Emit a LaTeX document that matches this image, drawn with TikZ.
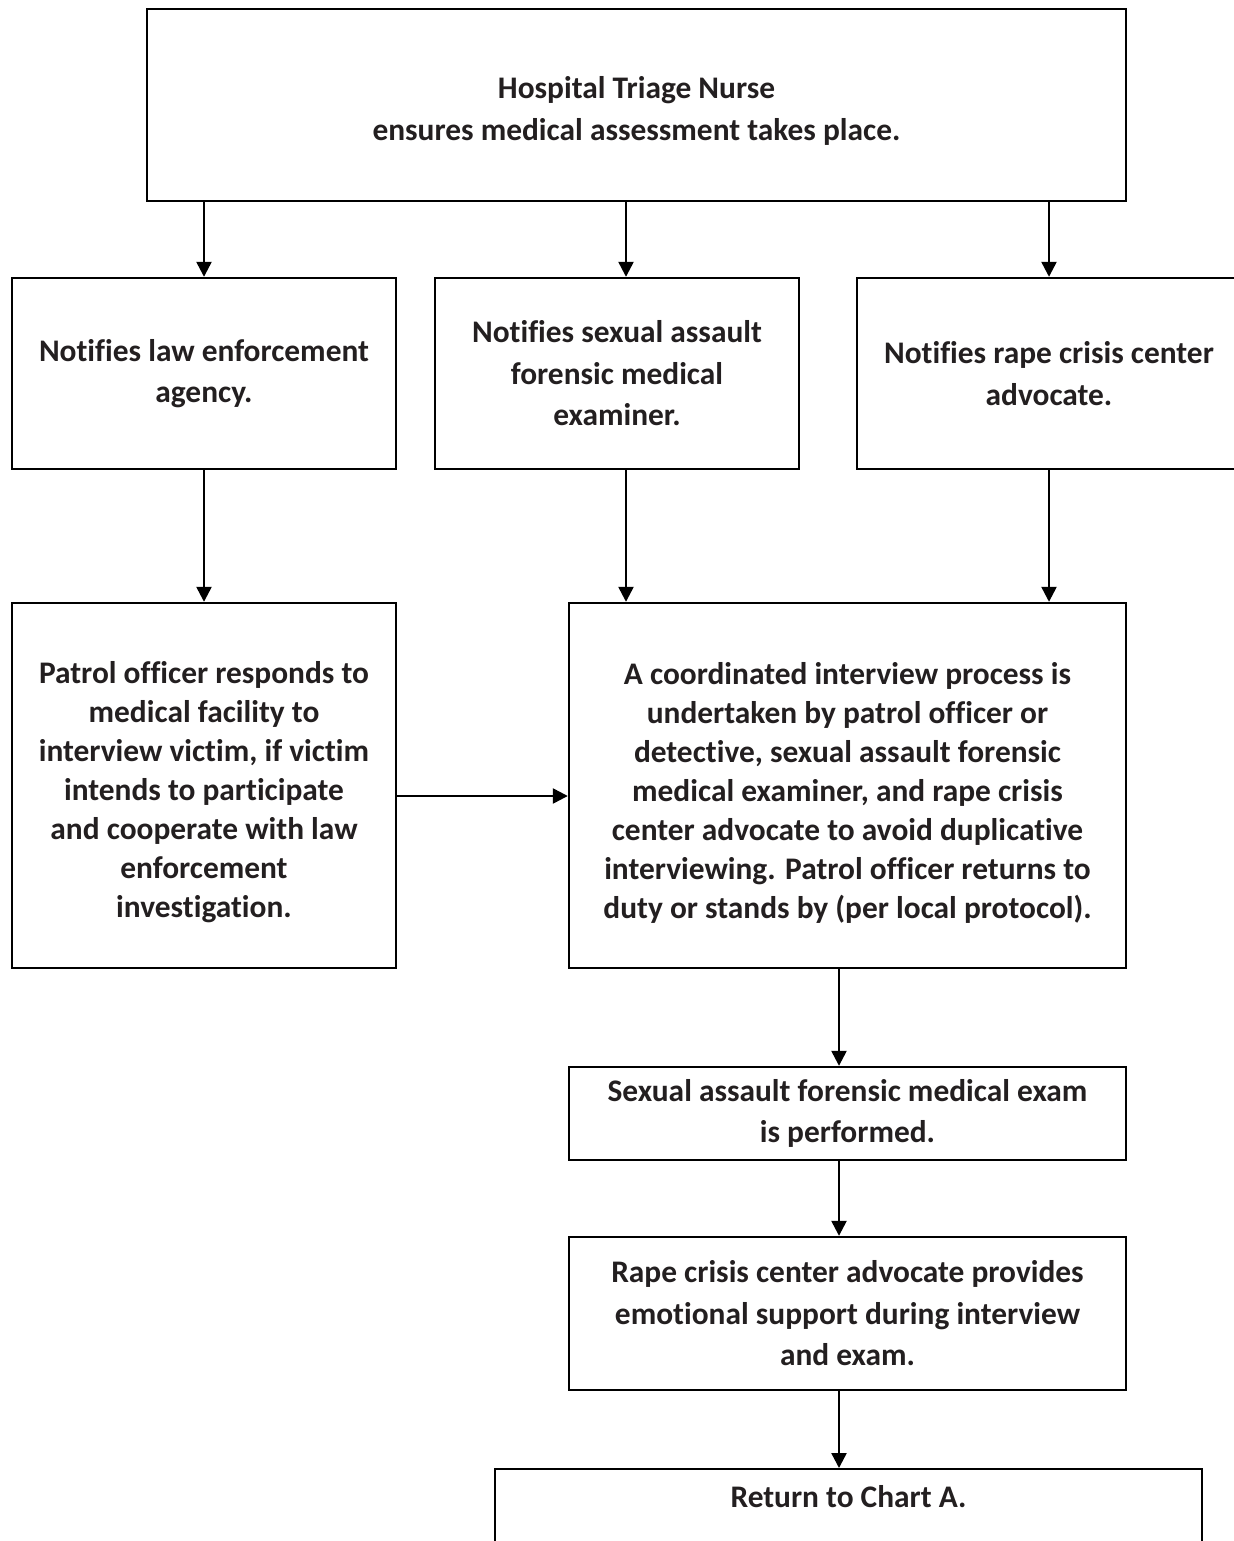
\documentclass[tikz,border=0pt]{standalone}
\usepackage{fontspec}
\setmainfont{Carlito}[Ligatures=NoCommon]
\usetikzlibrary{arrows.meta}
\definecolor{inkgray}{HTML}{231F20}
\tikzset{
  box/.style={draw, line width=1.2pt, text=inkgray, font=\bfseries\fontsize{15.7}{20.75}\selectfont, align=center, inner sep=0pt},
  tightbox/.style={box, font=\bfseries\fontsize{15.7}{19.5}\selectfont},
  flow/.style={line width=1.2pt, -{Triangle[length=7.5pt,width=7.5pt]}},
}
\begin{document}
\begin{tikzpicture}[x=0.5pt, y=-0.5pt]
    \useasboundingbox (0,0) rectangle (1233,1541);

    % Draw node for the triage nurse
    \node[box, minimum width=489.5pt, minimum height=96pt] (nurse) at (636.5,105) {\rule{0pt}{17pt}Hospital Triage Nurse\\ensures medical assessment takes place.};

    % Draw nodes for the three notifications
    \node[box, minimum width=192pt, minimum height=95.5pt] (law) at (204,373.5) {Notifies law enforcement\\agency.};
    \node[box, minimum width=182pt, minimum height=95.5pt] (safe) at (617,373.5) {Notifies sexual assault\\forensic medical\\examiner.};
    \node[box, minimum width=192pt, minimum height=95.5pt] (rcc) at (1049,373.5) {Notifies rape crisis center\\advocate.};

    % Draw nodes for the response
    \node[tightbox, minimum width=192pt, minimum height=182.5pt] (patrol) at (204,785.5) {\rule{0pt}{18pt}Patrol officer responds to\\medical facility to\\interview victim, if victim\\intends to participate\\and cooperate with law\\enforcement\\investigation.};
    \node[tightbox, minimum width=278.5pt, minimum height=182.5pt] (interview) at (847.5,785.5) {\rule{0pt}{18pt}A coordinated interview process is\\undertaken by patrol officer or\\detective, sexual assault forensic\\medical examiner, and rape crisis\\center advocate to avoid duplicative\\interviewing. Patrol officer returns to\\duty or stands by (per local protocol).};

    % Draw nodes for the exam and the end
    \node[box, minimum width=278.5pt, minimum height=46.5pt] (exam) at (847.5,1113.5) {Sexual assault forensic medical exam\\is performed.};
    \node[box, minimum width=278.5pt, minimum height=76.5pt] (support) at (847.5,1313.5) {Rape crisis center advocate provides\\emotional support during interview\\and exam.};
    \node[box, anchor=north, minimum width=353.5pt, text height=19pt, text depth=70pt] (chart) at (848.5,1468) {Return to Chart A.};

    % Helper coordinates for arrows off the centre lines
    \coordinate (bx) at (626,0);
    \coordinate (mx) at (839,0);
    \coordinate (hy) at (0,796);

    % Draw all arrows
    \draw[flow] (nurse.south -| law) -- (law.north); % Nurse to law enforcement
    \draw[flow] (nurse.south -| bx) -- (safe.north -| bx); % Nurse to examiner
    \draw[flow] (nurse.south -| rcc) -- (rcc.north); % Nurse to advocate
    \draw[flow] (law.south) -- (patrol.north); % Law enforcement to patrol officer
    \draw[flow] (safe.south -| bx) -- (interview.north -| bx); % Examiner to interview
    \draw[flow] (rcc.south) -- (interview.north -| rcc); % Advocate to interview
    \draw[flow] (patrol.east |- hy) -- (interview.west |- hy); % Patrol officer to interview
    \draw[flow] (interview.south -| mx) -- (exam.north -| mx); % Interview to exam
    \draw[flow] (exam.south -| mx) -- (support.north -| mx); % Exam to support
    \draw[flow] (support.south -| mx) -- (chart.north -| mx); % Support to Chart A
\end{tikzpicture}
\end{document}
